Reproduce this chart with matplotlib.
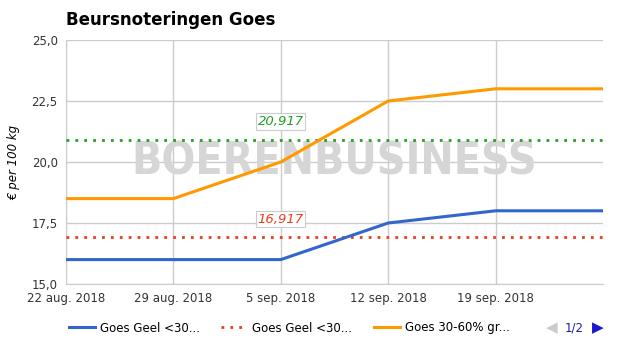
import matplotlib
matplotlib.use("Agg")
import matplotlib.pyplot as plt
from matplotlib.lines import Line2D
import datetime as dt

dates = [dt.date(2018, 8, 22), dt.date(2018, 8, 29), dt.date(2018, 9, 5),
         dt.date(2018, 9, 12), dt.date(2018, 9, 19), dt.date(2018, 9, 26)]
geel = [16.0, 16.0, 16.0, 17.5, 18.0, 18.0]
groot = [18.5, 18.5, 20.0, 22.5, 23.0, 23.0]
avg_geel = 16.917
avg_groot = 20.917
tick_labels = ["22 aug. 2018", "29 aug. 2018", "5 sep. 2018", "12 sep. 2018", "19 sep. 2018"]
legend_names = ["Goes Geel <30...", "Goes Geel <30...", "Goes 30-60% gr..."]

blue = "#3366cc"
red = "#e8401c"
orange = "#ff9900"
green = "#22a022"
grid = "#cccccc"

fig = plt.figure(figsize=(6.25, 3.55), dpi=100)
ax = fig.add_axes([66/625, 1-284/355, (603-66)/625, (284-40)/355])

ax.plot(dates, geel, color=blue, lw=2.2, zorder=4)
ax.plot(dates, groot, color=orange, lw=2.2, zorder=4)
ax.axhline(avg_geel, color=red, lw=2, ls=(0, (1, 2.2)), zorder=3)
ax.axhline(avg_groot, color=green, lw=2, ls=(0, (1, 2.2)), zorder=3)

ax.set_xlim(dates[0], dates[-1])
ax.set_ylim(15, 25)
ax.set_xticks(dates[:5])
ax.set_xticklabels(tick_labels)
ax.set_yticks([15, 17.5, 20, 22.5, 25])
ax.set_yticklabels(["15,0", "17,5", "20,0", "22,5", "25,0"])
ax.tick_params(length=0, labelsize=8.5, colors="#333333", pad=6)
ax.grid(True, color=grid, lw=1)
ax.set_axisbelow(True)
for s in ["top", "right"]:
    ax.spines[s].set_visible(False)
for s in ["left", "bottom"]:
    ax.spines[s].set_color(grid)
ax.set_ylabel("€ per 100 kg", fontsize=8.5, style="italic", labelpad=8)

# watermark
ax.text(0.5, 0.5, "BOERENBUSINESS", transform=ax.transAxes, ha="center", va="center",
        fontsize=32, fontweight="heavy", fontstretch="condensed", color="#d6d6d6",
        family="DejaVu Sans", zorder=2)

# average labels
for val, col in [(avg_groot, green), (avg_geel, red)]:
    ax.annotate(f"{val:.3f}".replace(".", ","), xy=(dates[2], val), xytext=(0, 13),
                textcoords="offset points", ha="center", va="center", fontsize=9.5,
                style="italic", color=col, zorder=6,
                bbox=dict(boxstyle="square,pad=0.12", fc="white", ec=grid, lw=0.8))

fig.text(66/625, 1-20/355, "Beursnoteringen Goes", fontsize=12, fontweight="bold",
         va="center", ha="left")

# legend
handles = [Line2D([], [], color=blue, lw=2.2),
           Line2D([], [], color=red, lw=2, ls=(0, (1, 2.2))),
           Line2D([], [], color=orange, lw=2.2)]
fig.legend(handles, legend_names, loc="center left", bbox_to_anchor=(58/625, 1-328/355),
           ncol=3, frameon=False, fontsize=8.5, handlelength=2.2, columnspacing=1.85,
           handletextpad=0.42)
fig.text(552/625, 1-328/355, "◀", color="#cccccc", fontsize=11, va="center", ha="center")
fig.text(574/625, 1-328/355, "1/2", color="#1a1aa6", fontsize=8.5, va="center", ha="center")
fig.text(598/625, 1-328/355, "▶", color="#1a1acc", fontsize=11, va="center", ha="center")

fig.savefig("out.png", dpi=100)
